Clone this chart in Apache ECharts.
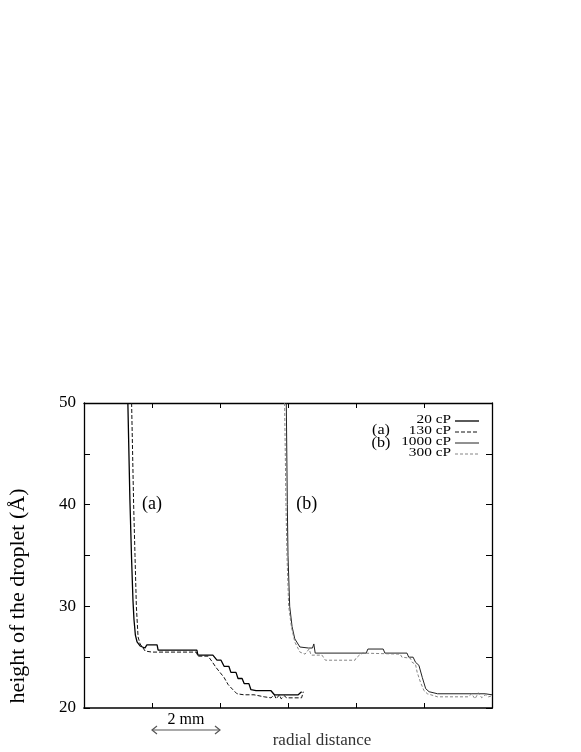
<!DOCTYPE html>
<html><head><meta charset="utf-8">
<script src="https://cdn.jsdelivr.net/npm/echarts@6/dist/echarts.min.js"></script>
<style>html,body{margin:0;padding:0;background:#fff}#c{width:581px;height:752px}</style>
</head><body><div id="c"></div>
<script>
// x: radial distance (mm), y: height of the droplet (Å)
const a20_x = [1.29,1.35,1.40,1.44,1.47,1.51,1.56,1.65,1.79,1.85,2.15,2.18,3.32,3.35,3.79,3.91,4.03,4.12,4.26,4.32,4.47,4.53,4.65,4.71,4.85,4.91,5.06,5.50,5.60,6.30,6.40];
const a20_y = [50,40.5,34.6,30.6,28.7,27.2,26.5,26.1,25.9,26.2,26.2,25.7,25.7,25.2,25.2,24.7,24.7,24.1,24.1,23.5,23.5,22.9,22.9,22.4,22.4,21.8,21.7,21.7,21.3,21.3,21.6];
const a130_x = [1.40,1.46,1.50,1.54,1.59,1.65,1.80,2.00,3.30,3.35,3.65,3.76,3.88,4.00,4.12,4.24,4.38,4.50,4.70,5.00,5.30,5.50,5.60,5.65,5.75,5.80,5.90,5.95,6.40,6.45];
const a130_y = [50,40,35,30,27,26.3,25.6,25.5,25.5,25.1,25.1,24.6,24.0,23.5,23.0,22.3,21.8,21.4,21.3,21.3,21.1,21.0,21.3,20.9,21.3,20.9,21.2,21.0,21.0,21.6];
const b1000_x = [5.95,5.98,6.00,6.05,6.12,6.20,6.35,6.60,6.72,6.76,6.80,8.30,8.35,8.80,8.85,9.50,9.55,9.68,9.75,9.85,9.95,10.05,10.15,10.40,11.80,12.00];
const b1000_y = [50,40,35,30,28,26.8,26.0,25.9,25.9,26.3,25.4,25.4,25.8,25.8,25.4,25.4,25.0,25.0,24.5,24.2,23.0,21.9,21.6,21.4,21.4,21.3];
const b300_x = [5.90,5.94,5.97,6.02,6.10,6.20,6.35,6.50,6.55,6.62,6.68,7.00,7.10,7.97,8.00,8.10,8.20,9.30,9.35,9.60,9.65,9.75,9.80,9.90,10.00,10.10,10.40,11.30,11.40,11.50,11.60,11.70,11.80,11.90,12.00];
const b300_y = [50,40,35,30,28,26.5,25.5,25.3,25.3,25.8,25.2,25.2,24.7,24.7,24.9,25.2,25.4,25.3,25.0,24.9,24.5,24.3,23.5,22.5,21.7,21.4,21.1,21.1,21.4,20.9,21.5,21.0,21.3,21.1,21.2];
const seriesNames = ['20 cP','130 cP','1000 cP','300 cP'];
const groupLabels = ['(a)','(b)'];
const yTicks = [20,30,40,50];

function pairs(xs, ys){ return xs.map((x,i)=>[x, ys[i]]); }
const SERIF = '"Liberation Serif","DejaVu Serif",serif';
const chart = echarts.init(document.getElementById('c'), null, {renderer:'canvas'});
const grid = {left:84, top:403, width:408, height:305};
const styles = [
  {color:'#000', width:1.3, type:'solid'},
  {color:'#111', width:1.0, type:[4,2]},
  {color:'#222', width:1.0, type:'solid'},
  {color:'#777', width:0.9, type:[3,2]}
];
function mkSeries(i, xs, ys){
  return {name:seriesNames[i], type:'line', data:pairs(xs,ys), showSymbol:false, symbol:'none', animation:false,
    lineStyle:styles[i], itemStyle:{color:styles[i].color}, z:3};
}
const axLine = {onZero:false, lineStyle:{color:'#000', width:1.3}};
chart.setOption({
  backgroundColor:'#fff',
  animation:false,
  grid,
  xAxis:[
    {type:'value', min:0, max:12, interval:2, position:'bottom',
     axisLine:{onZero:false, lineStyle:{color:'#000', width:1.7}}, axisTick:{inside:true, length:5, lineStyle:{color:'#000'}},
     axisLabel:{show:false}, splitLine:{show:false}},
    {type:'value', min:0, max:12, interval:2, position:'top',
     axisLine:axLine, axisTick:{inside:true, length:5, lineStyle:{color:'#000'}},
     axisLabel:{show:false}, splitLine:{show:false}}
  ],
  yAxis:[
    {type:'value', min:20, max:50, interval:5, position:'left',
     axisLine:Object.assign({show:true}, axLine), axisTick:{show:true, inside:true, length:6, lineStyle:{color:'#000'}},
     axisLabel:{margin:8, fontFamily:SERIF, fontSize:17, color:'#000', formatter:v=>yTicks.includes(v)?String(v):''},
     splitLine:{show:false}},
    {type:'value', min:20, max:50, interval:5, position:'right',
     axisLine:Object.assign({show:true}, axLine), axisTick:{show:true, inside:true, length:6, lineStyle:{color:'#000'}},
     axisLabel:{show:false}, splitLine:{show:false}}
  ],
  series:[
    mkSeries(0, a20_x, a20_y),
    mkSeries(1, a130_x, a130_y),
    mkSeries(2, b1000_x, b1000_y),
    mkSeries(3, b300_x, b300_y)
  ]
});

function draw(){
  const p = (x,y)=>chart.convertToPixel({xAxisIndex:0, yAxisIndex:0}, [x,y]);
  const bottom = grid.top + grid.height;
  const x2 = p(2,20)[0], x4 = p(4,20)[0];
  const aPos = p(2.0,40), bPos = p(6.55,40);
  const mid = (x2+x4)/2;
  const g = [
    {type:'text', x:18, y:596, rotation:Math.PI/2, style:{text:'height of the droplet (Å)', font:'22px '+SERIF, fill:'#000', textAlign:'center', textVerticalAlign:'middle'}},
    {type:'text', x:aPos[0], y:aPos[1], style:{text:groupLabels[0], font:'18px '+SERIF, fill:'#000', textAlign:'center', textVerticalAlign:'middle'}},
    {type:'text', x:bPos[0], y:bPos[1], style:{text:groupLabels[1], font:'18px '+SERIF, fill:'#000', textAlign:'center', textVerticalAlign:'middle'}},
    {type:'text', x:mid, y:bottom+12, style:{text:'2 mm', font:'16px '+SERIF, fill:'#000', textAlign:'center', textVerticalAlign:'middle'}},
    {type:'line', shape:{x1:x2, y1:bottom+22, x2:x4, y2:bottom+22}, style:{stroke:'#555', lineWidth:1.2}},
    {type:'polyline', shape:{points:[[x2+5,bottom+18],[x2,bottom+22],[x2+5,bottom+26]]}, style:{stroke:'#555', lineWidth:1.2, fill:null}},
    {type:'polyline', shape:{points:[[x4-5,bottom+18],[x4,bottom+22],[x4-5,bottom+26]]}, style:{stroke:'#555', lineWidth:1.2, fill:null}},
    {type:'text', x:322, y:bottom+33, style:{text:'radial distance', font:'17px '+SERIF, fill:'#333', textAlign:'center', textVerticalAlign:'middle'}}
  ];
  // legend
  const rowY = [420, 431, 442, 453];
  seriesNames.forEach((n,i)=>{
    g.push({type:'text', x:451, y:rowY[i], scaleX:1.18, style:{text:n, font:'13px '+SERIF, fill:'#000', textAlign:'right', textVerticalAlign:'middle'}});
    g.push({type:'line', shape:{x1:455, y1:rowY[i]+1, x2:479, y2:rowY[i]+1},
      style:{stroke:styles[i].color, lineWidth:styles[i].width, lineDash:Array.isArray(styles[i].type)?styles[i].type:null}});
  });
  g.push({type:'text', x:381, y:430, scaleX:1.15, style:{text:groupLabels[0], font:'14px '+SERIF, fill:'#000', textAlign:'center', textVerticalAlign:'middle'}});
  g.push({type:'text', x:381, y:443, scaleX:1.15, style:{text:groupLabels[1], font:'14px '+SERIF, fill:'#000', textAlign:'center', textVerticalAlign:'middle'}});
  chart.setOption({graphic:g});
}
draw();
</script>
</body></html>
